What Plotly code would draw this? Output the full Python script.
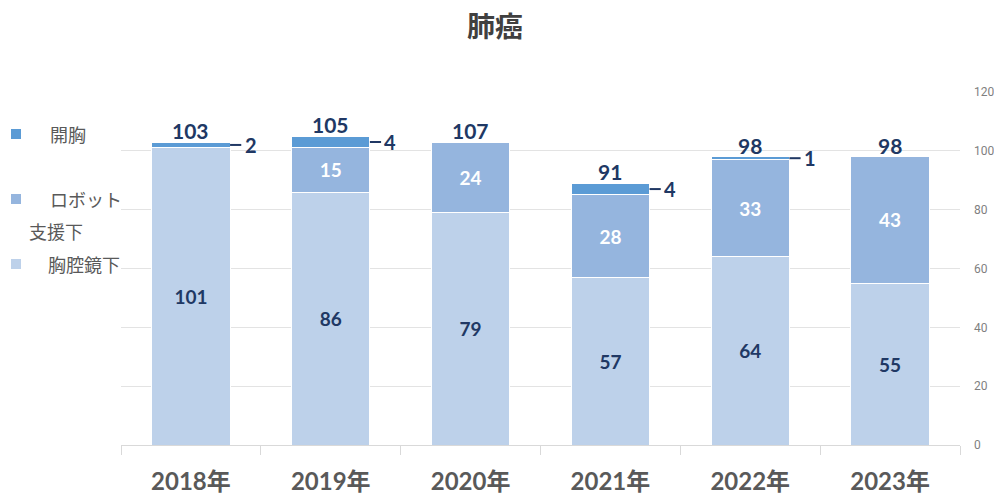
import plotly.graph_objects as go

years = ["2018年", "2019年", "2020年", "2021年", "2022年", "2023年"]
thoracoscopic = [101, 86, 79, 57, 64, 55]
robotic = [0, 15, 24, 28, 33, 43]
open_chest = [2, 4, 0, 4, 1, 0]
totals = [103, 105, 107, 91, 98, 98]

FONT = "Lato, 'Noto Sans CJK JP', sans-serif"
NAVY = "#203864"
C_THOR = "#BDD1EA"
C_ROBO = "#95B5DE"
C_OPEN = "#5B9BD5"

fig = go.Figure()
fig.add_trace(go.Bar(
    x=years, y=thoracoscopic, name="胸腔鏡下", marker=dict(color=C_THOR, line=dict(color="white", width=1)),
    text=[str(v) if v else "" for v in thoracoscopic], textposition="inside", insidetextanchor="middle",
    textfont=dict(family=FONT, size=19, color=NAVY, weight="bold"), textangle=0, showlegend=False))
fig.add_trace(go.Bar(
    x=years, y=robotic, name="ロボット支援下", marker=dict(color=C_ROBO, line=dict(color="white", width=1)),
    text=[str(v) if v else "" for v in robotic], textposition="inside", insidetextanchor="middle",
    textfont=dict(family=FONT, size=19, color="white", weight="bold"), textangle=0, showlegend=False))
fig.add_trace(go.Bar(
    x=years, y=open_chest, name="開胸", marker=dict(color=C_OPEN, line=dict(color="white", width=1)),
    textposition="none", showlegend=False))

annotations = []
shapes = []
for i in range(len(years)):
    base = thoracoscopic[i] + robotic[i]
    top = base + open_chest[i]
    annotations.append(dict(x=i, y=top, xref="x", yref="y", text=str(totals[i]), showarrow=False,
                            yanchor="bottom", borderpad=0, yshift=-2,
                            font=dict(family=FONT, size=21, color=NAVY, weight="bold")))
    if open_chest[i]:
        ym = base + open_chest[i] / 2
        shapes.append(dict(type="line", xref="x", yref="y", x0=i + 0.28, x1=i + 0.36, y0=ym, y1=ym,
                           line=dict(color=NAVY, width=2)))
        annotations.append(dict(x=i + 0.37, y=ym, xref="x", yref="y", text=str(open_chest[i]),
                                showarrow=False, xanchor="left", yanchor="middle",
                                font=dict(family=FONT, size=20, color=NAVY, weight="bold")))

# manual legend
R = 34
PW = 994 - 121 - R
leg = [("開胸", C_OPEN, 134, 48), ("ロボット", C_ROBO, 199, 48), ("胸腔鏡下", C_THOR, 264, 46)]
LEGFONT = dict(family="'Noto Sans CJK JP', sans-serif", size=18, color="#595959")
for txt, col, ypx, xpx in leg:
    shapes.append(dict(type="rect", xref="paper", yref="paper",
                       x0=(11 - 121) / PW, x1=(21 - 121) / PW,
                       y0=(445 - ypx - 5) / 353, y1=(445 - ypx + 5) / 353,
                       fillcolor=col, line=dict(width=0)))
    annotations.append(dict(x=(xpx - 121) / PW, y=(445 - ypx) / 353, xref="paper", yref="paper",
                            text=txt, showarrow=False, xanchor="left", yanchor="middle", font=LEGFONT))
annotations.append(dict(x=(27 - 121) / PW, y=(445 - 231) / 353, xref="paper", yref="paper",
                        text="支援下", showarrow=False, xanchor="left", yanchor="middle", font=LEGFONT))

fig.update_layout(
    barmode="stack", bargap=0.44,
    width=994, height=503,
    margin=dict(l=121, r=R, t=92, b=58),
    plot_bgcolor="white", paper_bgcolor="white",
    title=dict(text="<b>肺癌</b>", x=0.498, xanchor="center", y=0.945, yanchor="middle",
               font=dict(family="'Noto Sans CJK JP', sans-serif", size=28, color="#404040")),
    xaxis=dict(showline=True, linecolor="#D9D9D9", linewidth=1, ticks="outside", tickson="boundaries",
               ticklen=9, tickcolor="#D9D9D9", ticklabelstandoff=15, automargin=False,
               tickfont=dict(family=FONT, size=24, color="#595959", weight="bold")),
    yaxis=dict(side="right", range=[0, 120], dtick=20, showgrid=True, gridcolor="#E3E3E3",
               zeroline=False, tickfont=dict(family="Roboto, sans-serif", size=12, color="#7F7F7F"),
               ticks="", ticklabelstandoff=13, automargin=False),
    annotations=annotations, shapes=shapes, showlegend=False,
)

fig.write_html("out.html")
